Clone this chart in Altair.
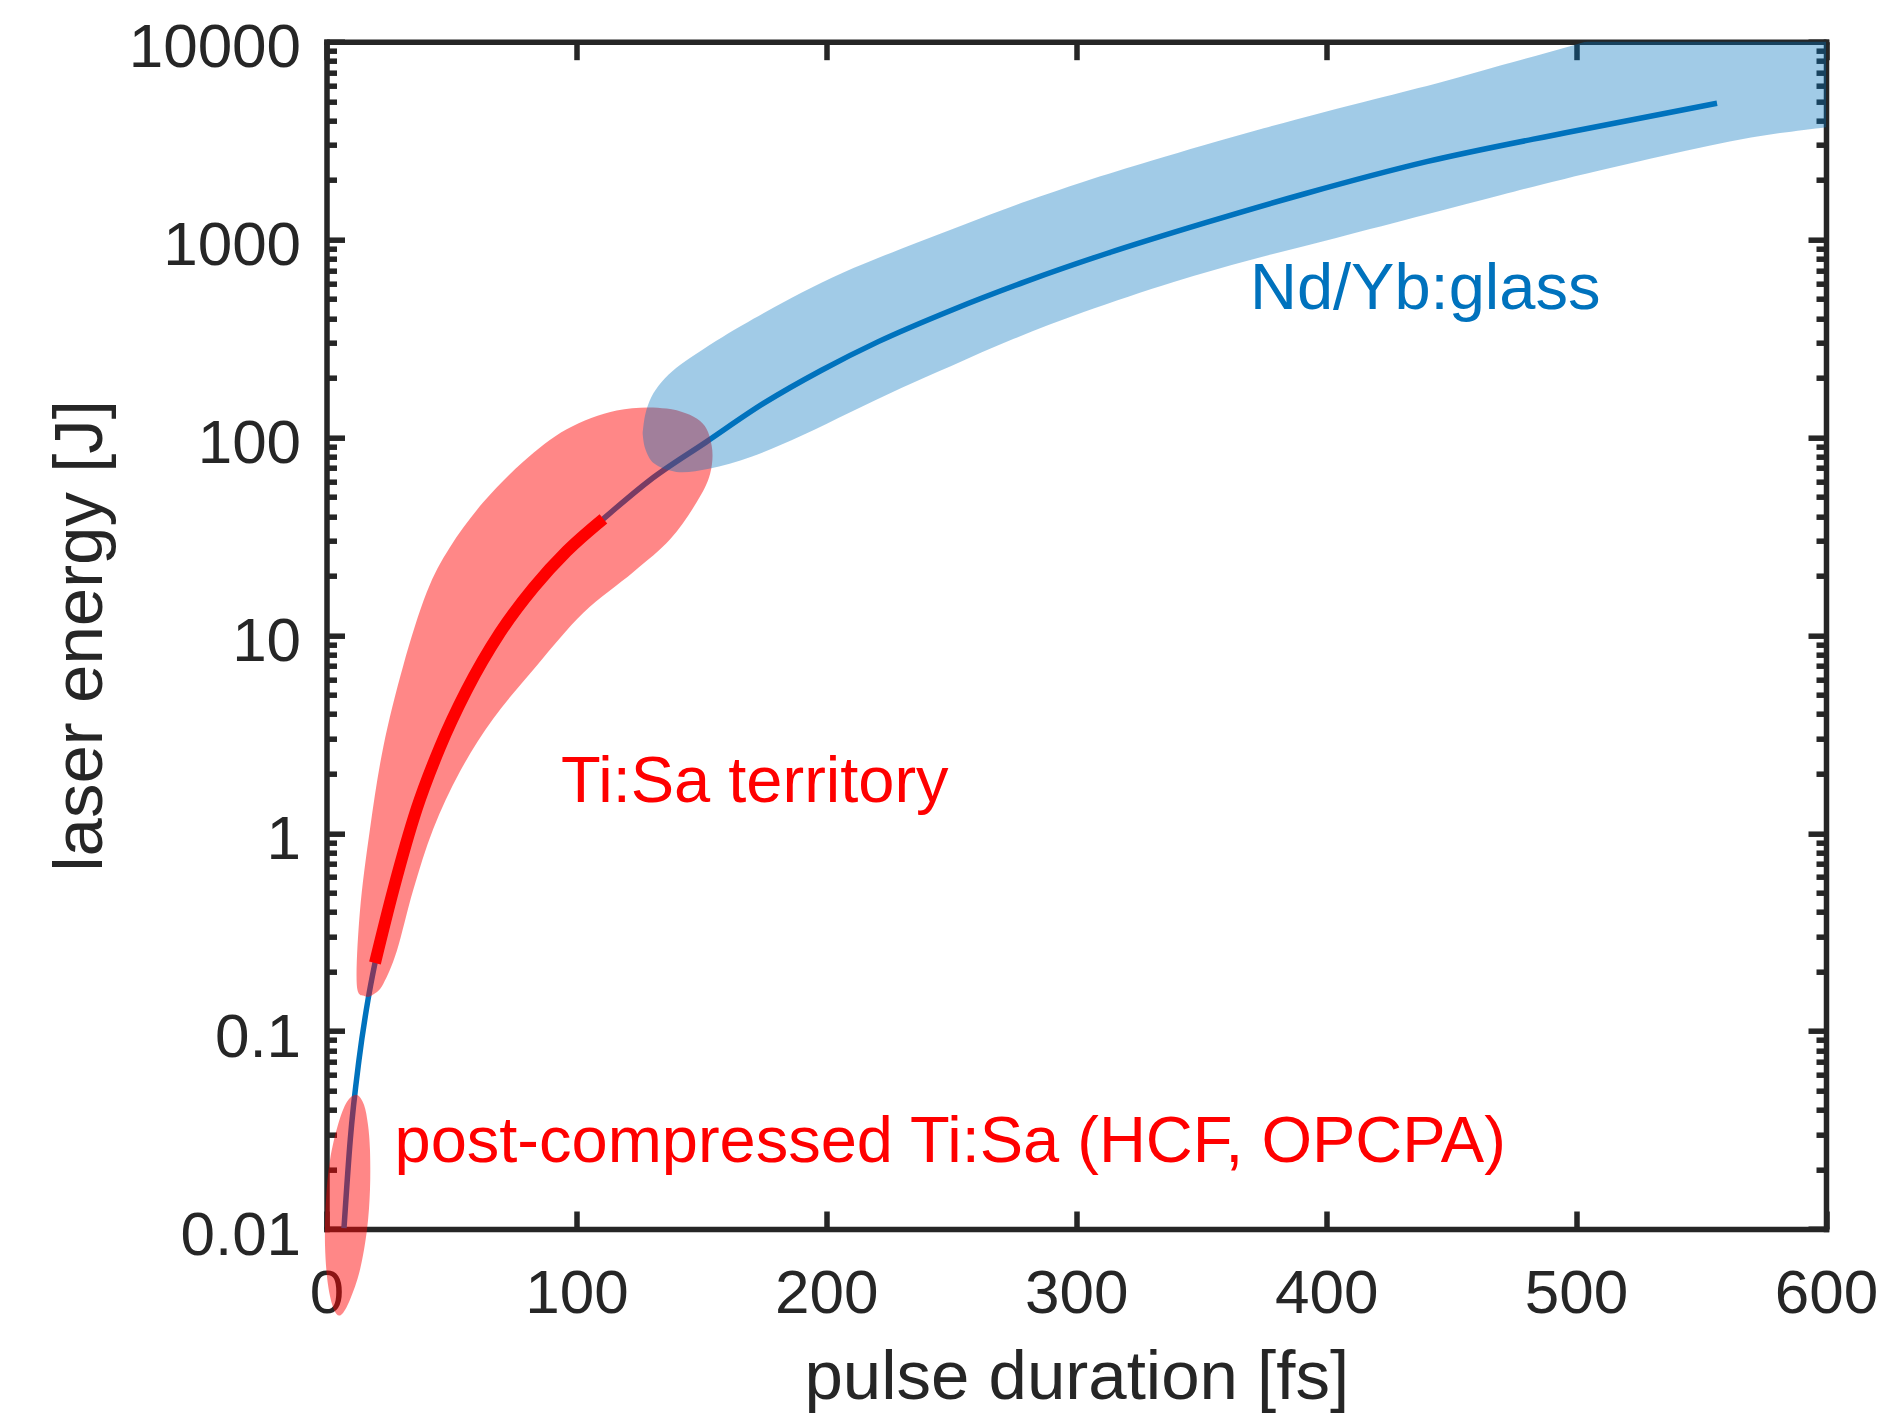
import altair as alt
import pandas as pd

# ---- data: pulse duration [fs] vs. laser energy [J] ----
# general trend line
trend_fs = [7.0, 9.5, 13.0, 16.6, 19.4, 26.7, 36.1, 45.4, 56.1, 69.4, 82.8, 96.1, 110.8,
            129.5, 152.0, 175.0, 197.9, 220.8, 250.3, 279.7, 312.5, 351.8, 391.1, 440.2,
            495.8, 556.4]
trend_J = [0.0101, 0.0282, 0.0715, 0.1438, 0.221, 0.515, 1.33, 2.72, 5.29, 10.3, 17.4,
           26.6, 38.8, 61, 95, 149, 218, 305, 441, 613, 853, 1218, 1700, 2476, 3468, 4883]

# Ti:Sa section of the trend (thick red)
tisa_fs = [19.4, 26.7, 36.1, 45.4, 56.1, 69.4, 82.8, 96.1, 110.8]
tisa_J = [0.221, 0.515, 1.33, 2.72, 5.29, 10.3, 17.4, 26.6, 38.8]

# Ti:Sa territory outline
blob_fs = [15.4, 12.1, 13.4, 17.4, 22.7, 30.7, 40.1, 49.4, 62.7, 78.8, 96.1, 116.1, 136.1,
           149.5, 154.1, 153.5, 148.1, 137.5, 122.8, 102.8, 84.1, 66.7, 53.4, 42.7, 34.7,
           28.1, 22.7, 18.7]
blob_J = [0.150, 0.173, 0.407, 1.05, 2.72, 7.03, 16.5, 27.9, 47, 75.5, 110, 137, 140,
          121, 91.4, 65.5, 47, 30.6, 20.9, 13, 7.03, 3.79, 2.05, 1.05, 0.516, 0.253, 0.173,
          0.153]

# post-compressed Ti:Sa outline
hcf_fs = [12.1, 15.0, 16.6, 17.4, 17.4, 16.2, 13.4, 9.4, 5.8, 3.0, 0.6, -0.6, -0.2, 1.4,
          4.6, 8.2]
hcf_J = [0.0476, 0.0424, 0.0336, 0.0251, 0.0158, 0.00991, 0.00622, 0.00439, 0.00368,
         0.00391, 0.00522, 0.00832, 0.0140, 0.0223, 0.0336, 0.0439]

# Nd/Yb:glass band outline (upper edge left to right, lower edge back, closed)
glass_fs = [126.5, 127.5, 130, 134, 140, 148, 158.5, 175, 190, 206.6, 230, 255, 280, 303,
            330, 351, 375, 399, 420, 447, 470, 499, 530, 570, 612, 628, 628, 612,
            600, 570, 535, 495, 470, 440, 404, 370, 339, 303, 275, 250, 230, 210, 190, 170,
            153, 140, 131, 127.5, 126.5]
glass_J = [105, 130, 160, 190, 225, 265, 322, 425, 538, 680, 900, 1190, 1560, 1960,
           2500, 3000, 3650, 4400, 5150, 6300, 7600, 9600, 12500, 16500, 21000, 15000, 5500,
           3850, 3700, 3280, 2650, 2020, 1680, 1340, 1020, 790, 610, 430, 315, 230, 178,
           135, 102, 80, 69.5, 67, 74, 88, 105]

# annotations
label_text = ["Nd/Yb:glass", "Ti:Sa territory", "post-compressed Ti:Sa (HCF, OPCPA)"]
label_fs = [369.5, 93.8, 27.2]
label_J = [446, 1.44, 0.0218]
label_color = ["#0072BD", "#FF0000", "#FF0000"]

# axis ticks
x_ticks = [0, 100, 200, 300, 400, 500, 600]
y_ticks = [0.01, 0.02, 0.03, 0.04, 0.05, 0.06, 0.07, 0.08, 0.09,
           0.1, 0.2, 0.3, 0.4, 0.5, 0.6, 0.7, 0.8, 0.9,
           1, 2, 3, 4, 5, 6, 7, 8, 9,
           10, 20, 30, 40, 50, 60, 70, 80, 90,
           100, 200, 300, 400, 500, 600, 700, 800, 900,
           1000, 2000, 3000, 4000, 5000, 6000, 7000, 8000, 9000,
           10000]

# ---- styling ----
FONT = "Liberation Sans"
INK = "#262626"
BLUE = "#0072BD"
RED = "#FF0000"
W, H = 1499.5, 1187.3


def frame(xs, ys):
    return pd.DataFrame({"fs": xs, "J": ys, "i": list(range(len(xs)))})


MAJOR = "abs(log(datum.value)/LN10 - round(log(datum.value)/LN10)) < 0.000001"
Y_TICK = {"expr": f"({MAJOR}) ? -18 : -10"}
X_TICK = {"expr": "-18"}

common_axis = dict(
    domainColor=INK, domainWidth=5.5, domainCap="square",
    tickColor=INK, tickWidth=5.5, grid=False,
    labelFont=FONT, labelFontSize=62, labelColor=INK,
    labelFlush=False, labelOverlap=False,
    titleFont=FONT, titleFontSize=69, titleFontWeight="normal", titleColor=INK,
)

x_scale = alt.Scale(domain=[0, 600], nice=False, zero=False)
y_scale = alt.Scale(type="log", domain=[0.01, 10000], nice=False)

ax_bottom = alt.Axis(orient="bottom", values=x_ticks, tickSize=X_TICK, labelPadding=52.7,
                     title="pulse duration [fs]", titleX=W / 2, titleY=169,
                     titleBaseline="alphabetic", titleAlign="center", **common_axis)
ax_top = alt.Axis(orient="top", values=x_ticks, tickSize=X_TICK, labels=False, title="",
                  **common_axis)
ax_left = alt.Axis(orient="left", values=y_ticks, tickSize=Y_TICK, labelPadding=43.9,
                   labelOffset=6, labelExpr=f"({MAJOR}) ? format(datum.value, '~g') : ''",
                   title="laser energy [J]", titleX=-225.5, titleY=H / 2, titleAngle=270,
                   titleBaseline="alphabetic", titleAlign="center", **common_axis)
ax_right = alt.Axis(orient="right", values=y_ticks, tickSize=Y_TICK, labels=False, title="",
                    **common_axis)


def xy(xaxis=None, yaxis=None):
    return dict(
        x=alt.X("fs:Q", scale=x_scale, axis=xaxis),
        y=alt.Y("J:Q", scale=y_scale, axis=yaxis),
    )


trend = alt.Chart(frame(trend_fs, trend_J)).mark_line(
    color=BLUE, strokeWidth=5.5, interpolate="monotone"
).encode(order="i:Q", **xy(ax_bottom, ax_left))

tisa = alt.Chart(frame(tisa_fs, tisa_J)).mark_line(
    color=RED, strokeWidth=12, interpolate="monotone"
).encode(order="i:Q", **xy(ax_top, ax_right))

blob = alt.Chart(frame(blob_fs, blob_J)).mark_line(
    fill=RED, fillOpacity=0.47, stroke=RED, strokeWidth=0, interpolate="cardinal-closed"
).encode(order="i:Q", **xy())

hcf = alt.Chart(frame(hcf_fs, hcf_J)).mark_line(
    fill=RED, fillOpacity=0.47, stroke=RED, strokeWidth=0, interpolate="cardinal-closed",
    clip=False
).encode(order="i:Q", **xy())

glass = alt.Chart(frame(glass_fs, glass_J)).mark_line(
    fill=BLUE, fillOpacity=0.37, stroke=BLUE, strokeWidth=0, interpolate="catmull-rom",
    clip=True
).encode(order="i:Q", **xy())

labels_df = pd.DataFrame({"fs": label_fs, "J": label_J, "text": label_text,
                          "color": label_color})
labels = alt.Chart(labels_df).mark_text(
    align="left", baseline="alphabetic", font=FONT, fontSize=65
).encode(
    text="text:N",
    color=alt.Color("color:N", scale=None),
    **xy(),
)

chart = (
    alt.layer(trend, tisa, blob, hcf, glass, labels)
    .resolve_axis(x="independent", y="independent")
    .properties(
        width=W, height=H,
        autosize=alt.AutoSizeParams(type="none"),
        padding={"left": 326.5, "top": 41.7, "right": 59, "bottom": 187},
        background="white",
    )
    .configure_view(stroke=None)
)

chart.save("out.html", embed_options={"renderer": "svg", "actions": False})
